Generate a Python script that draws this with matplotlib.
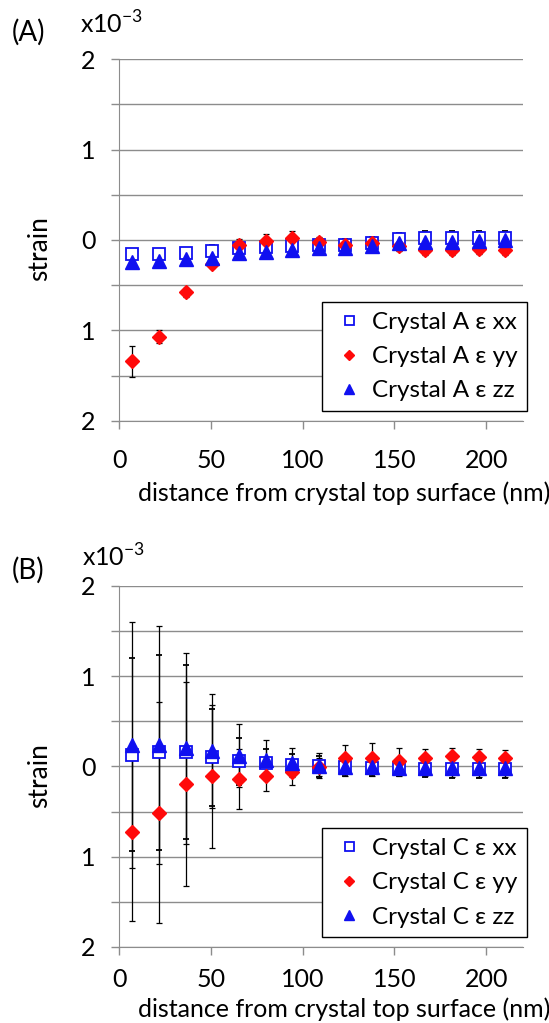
import matplotlib
matplotlib.use("Agg")
import matplotlib.pyplot as plt
import numpy as np

plt.rcParams['font.family'] = ['Lato', 'DejaVu Sans']

# distance from crystal top surface (nm)
dist = [7.3, 21.8, 36.3, 50.8, 65.3, 79.8, 94.3, 108.8, 123.3, 137.8, 152.3, 166.8, 181.3, 195.8, 210.3]

# Crystal A (x10^-3)
a_xx = [-0.16, -0.15, -0.14, -0.12, -0.09, -0.08, -0.07, -0.05, -0.05, -0.03, 0.01, 0.02, 0.02, 0.02, 0.02]
a_xx_err = [0.05, 0.05, 0.05, 0.06, 0.07, 0.08, 0.08, 0.06, 0.06, 0.06, 0.07, 0.08, 0.08, 0.08, 0.08]
a_yy = [-1.34, -1.07, -0.58, -0.26, -0.05, -0.01, 0.02, -0.02, -0.06, -0.03, -0.07, -0.11, -0.11, -0.10, -0.11]
a_yy_err = [0.17, 0.07, 0.05, 0.05, 0.06, 0.08, 0.08, 0.05, 0.05, 0.05, 0.05, 0.06, 0.06, 0.06, 0.06]
a_zz = [-0.24, -0.23, -0.21, -0.20, -0.14, -0.13, -0.11, -0.09, -0.09, -0.07, -0.03, -0.02, -0.02, -0.01, 0.0]
a_zz_err = [0.06, 0.06, 0.05, 0.05, 0.05, 0.05, 0.05, 0.05, 0.05, 0.05, 0.05, 0.05, 0.05, 0.05, 0.05]

# Crystal C (x10^-3)
c_xx = [0.13, 0.16, 0.16, 0.10, 0.06, 0.04, 0.02, 0.0, -0.01, -0.02, -0.02, -0.03, -0.03, -0.03, -0.03]
c_xx_err = [1.07, 1.08, 0.96, 0.54, 0.26, 0.15, 0.12, 0.12, 0.09, 0.09, 0.09, 0.09, 0.1, 0.1, 0.1]
c_yy = [-0.73, -0.51, -0.19, -0.11, -0.14, -0.11, -0.06, -0.01, 0.09, 0.09, 0.06, 0.09, 0.12, 0.10, 0.09]
c_yy_err = [0.98, 1.22, 1.13, 0.79, 0.33, 0.16, 0.14, 0.10, 0.15, 0.17, 0.14, 0.10, 0.09, 0.09, 0.09]
c_zz = [0.24, 0.24, 0.20, 0.17, 0.12, 0.07, 0.04, 0.01, -0.01, -0.01, -0.02, -0.02, -0.02, -0.02, -0.02]
c_zz_err = [1.36, 1.32, 1.06, 0.63, 0.35, 0.22, 0.16, 0.14, 0.09, 0.09, 0.09, 0.09, 0.1, 0.1, 0.1]

yticks = [2, 1, 0, -1, -2]
ytick_labels = ['2', '1', '0', '1', '2']
xticks = [0, 50, 100, 150, 200]

BLUE = '#1010f0'
RED = '#ff0a0a'
GRID = '#8c8c8c'
FS = 18


def painel(ax, xx, xx_err, yy, yy_err, zz, zz_err, nome, xlab_y, xpad):
    eb = dict(ecolor='black', elinewidth=0.9, capsize=2.5, capthick=0.9)
    h1 = ax.errorbar(dist, xx, yerr=xx_err, fmt='s', mfc='white', mec=BLUE, mew=1.3,
                     ms=9, **eb)
    h2 = ax.errorbar(dist, yy, yerr=yy_err, fmt='D', mfc=RED, mec=RED, ms=7, **eb)
    h3 = ax.errorbar(dist, zz, yerr=zz_err, fmt='^', mfc=BLUE, mec=BLUE, ms=9.5, **eb)
    ax.set_xlim(0, 220)
    ax.set_ylim(-2, 2)
    ax.set_yticks(yticks)
    ax.set_yticklabels(ytick_labels)
    ax.set_yticks(np.arange(-2, 2.01, 0.5), minor=True)
    ax.set_xticks(xticks)
    ax.grid(True, axis='y', which='both', color=GRID, lw=1.0)
    ax.set_axisbelow(True)
    for s in ['top', 'right']:
        ax.spines[s].set_visible(False)
    for s in ['left', 'bottom']:
        ax.spines[s].set_color(GRID)
    ax.tick_params(axis='both', which='both', direction='out', color=GRID,
                   length=6, width=1.0, labelsize=FS)
    ax.tick_params(axis='y', which='major', pad=11)
    ax.tick_params(axis='x', pad=xpad)
    ax.set_ylabel('strain', fontsize=FS + 1, va='center')
    ax.yaxis.set_label_coords(-0.196, 0.475)
    ax.set_xlabel('distance from crystal top surface (nm)', fontsize=FS, va='center')
    ax.xaxis.set_label_coords(0.557, xlab_y)
    # legenda so com os marcadores
    leg = ax.legend([h1[0], h2[0], h3[0]],
                    ['Crystal %s ε xx' % nome, 'Crystal %s ε yy' % nome, 'Crystal %s ε zz' % nome],
                    loc='lower right', bbox_to_anchor=(1.01, 0.027), fontsize=17.5,
                    frameon=True, fancybox=False, edgecolor='black', framealpha=1,
                    handlelength=1.4, handletextpad=0.25, borderpad=0.4,
                    labelspacing=0.55, borderaxespad=0.0, numpoints=1, markerscale=0.72)
    leg.get_frame().set_linewidth(1.0)


fig = plt.figure(figsize=(5.49, 10.23), dpi=100)
axA = fig.add_axes([0.2168, 0.5885, 0.7358, 0.3538])
axB = fig.add_axes([0.2168, 0.0743, 0.7358, 0.3529])

painel(axA, a_xx, a_xx_err, a_yy, a_yy_err, a_zz, a_zz_err, 'A', -0.200, 14)
painel(axB, c_xx, c_xx_err, c_yy, c_yy_err, c_zz, c_zz_err, 'C', -0.172, 9)

fig.text(0.022, 0.9687, '(A)', fontsize=20, va='center')
fig.text(0.146, 0.9668, 'x10$^{\\mathregular{-3}}$', fontsize=18, va='baseline')
fig.text(0.022, 0.4428, '(B)', fontsize=20, va='center')
fig.text(0.150, 0.4457, 'x10$^{\\mathregular{-3}}$', fontsize=18, va='baseline')

fig.savefig('out.png', dpi=100)
